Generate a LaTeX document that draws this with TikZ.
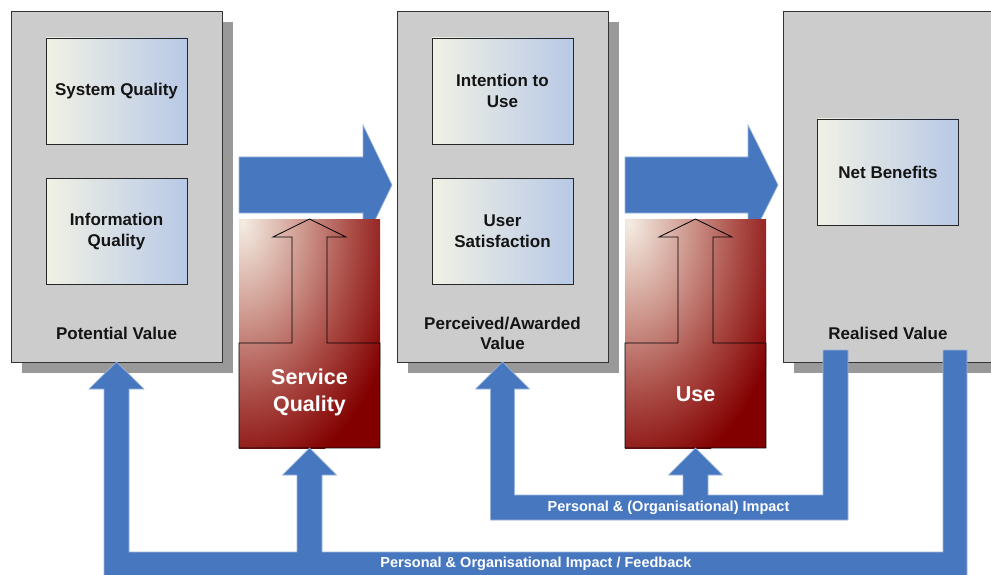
\documentclass[tikz,border=0pt]{standalone}
\usepackage{fontspec}
\setmainfont{Liberation Sans}
\usetikzlibrary{shadows}

\definecolor{panelgrey}{RGB}{204,204,204}
\definecolor{shadowgrey}{RGB}{153,153,153}
\definecolor{flowblue}{RGB}{71,120,191}
\definecolor{innerleft}{RGB}{241,241,229}
\definecolor{innerright}{RGB}{184,201,230}
\definecolor{glowcream}{RGB}{244,236,226}
\definecolor{glowpink}{RGB}{206,152,142}
\definecolor{glowmid}{RGB}{168,72,66}
\definecolor{glowred}{RGB}{130,0,0}

\pgfdeclareradialshading{redglow}{\pgfpoint{0bp}{0bp}}{color(0bp)=(glowcream); color(9bp)=(glowpink); color(17bp)=(glowmid); color(25bp)=(glowred); color(50bp)=(glowred)}

\tikzset{
  panel/.style={draw=black!80, fill=panelgrey, line width=0.8pt, minimum width=211pt, minimum height=351pt, inner sep=0pt,
    drop shadow={shadow xshift=11pt, shadow yshift=-11pt, fill=shadowgrey, opacity=1}},
  dimbox/.style={draw=black!85, line width=0.8pt, left color=innerleft, right color=innerright, minimum width=141pt, minimum height=106pt,
    inner sep=0pt, align=center, text=black!92, font=\bfseries\fontsize{17}{21}\selectfont},
  paneltext/.style={inner sep=0pt, align=center, text=black!92, font=\bfseries\fontsize{17}{20}\selectfont},
  redbox/.style={fill=glowred, minimum width=141pt, minimum height=229pt, inner sep=0pt,
    path picture={\shade[shading=redglow] ([xshift=4pt,yshift=-4pt]path picture bounding box.north west) ellipse (165pt and 260pt);}},
  outline/.style={draw=black, line width=0.8pt},
  redtext/.style={inner sep=0pt, align=center, text=white, font=\bfseries\fontsize{21.5}{27}\selectfont},
  flow/.style={fill=flowblue, draw=flowblue!55!white, line width=0.6pt},
  flowtext/.style={inner sep=0pt, text=white, font=\bfseries\fontsize{14.5}{17}\selectfont}
}

\begin{document}
\begin{tikzpicture}[x=1pt,y=-1pt]
\useasboundingbox (0,0) rectangle (991,575);
\clip (0,0) rectangle (991,575);

% value panels
\node[panel] (potential) at (116.75,186.5) {};
\node[panel] (perceived) at (502.5,186.5) {};
\node[panel] (realised) at (888.5,186.5) {};

\node[dimbox] (system) at (116.5,91) {System Quality};
\node[dimbox] (information) at (116.5,231.5) {Information\\Quality};
\node[dimbox] (intention) at (502.5,91) {Intention to\\Use};
\node[dimbox] (satisfaction) at (502.5,231.5) {User\\Satisfaction};
\node[dimbox] (benefits) at (888,172) {Net Benefits};

\node[paneltext] (potentialtext) at (116.5,333.5) {Potential Value};
\node[paneltext] (perceivedtext) at (502.5,333) {Perceived/Awarded\\Value};
\node[paneltext] (realisedtext) at (888,333.5) {Realised Value};

% forward arrows
\path[flow] (239,157) -- (363,157) -- (363,125) -- (392,185) -- (363,245) -- (363,213) -- (239,213) -- cycle;
\path[flow] (625,157) -- (748,157) -- (748,125) -- (778,185) -- (748,245) -- (748,213) -- (625,213) -- cycle;

% service quality and use
\node[redbox] (servicebox) at (309.5,333.5) {};
\draw[outline] (239,448) -- (239,343) -- (292,343) -- (292,237) -- (273,237) -- (309.5,219) -- (346,237) -- (327,237) -- (327,343) -- (380,343) -- (380,448) -- cycle;
\node[redtext] (service) at (309.5,392.5) {Service\\Quality};

\node[redbox] (usebox) at (695.5,333.5) {};
\draw[outline] (625,448) -- (625,343) -- (678,343) -- (678,237) -- (659,237) -- (695.5,219) -- (732,237) -- (713,237) -- (713,343) -- (766,343) -- (766,448) -- cycle;
\node[redtext] (use) at (695.5,394) {Use};

% feedback arrows
\path[flow] (502.5,362) -- (529.5,389) -- (514.5,389) -- (514.5,495) -- (683,495) -- (683,475) -- (668.5,475) -- (695.5,448) -- (722.5,475) -- (708,475) -- (708,495)
  -- (823,495) -- (823,350) -- (848,350) -- (848,520) -- (490.5,520) -- (490.5,389) -- (475.5,389) -- cycle;
\node[flowtext] (personal) at (668.5,507.5) {Personal \& (Organisational) Impact};

\path[flow] (116.5,362) -- (144,389) -- (129,389) -- (129,552) -- (297,552) -- (297,475) -- (282.5,475) -- (309.5,448) -- (336.5,475) -- (322,475) -- (322,552)
  -- (943,552) -- (943,350) -- (967,350) -- (967,580) -- (104,580) -- (104,389) -- (89,389) -- cycle;
\node[flowtext] (feedback) at (536,564) {Personal \& Organisational Impact / Feedback};

\end{tikzpicture}
\end{document}
